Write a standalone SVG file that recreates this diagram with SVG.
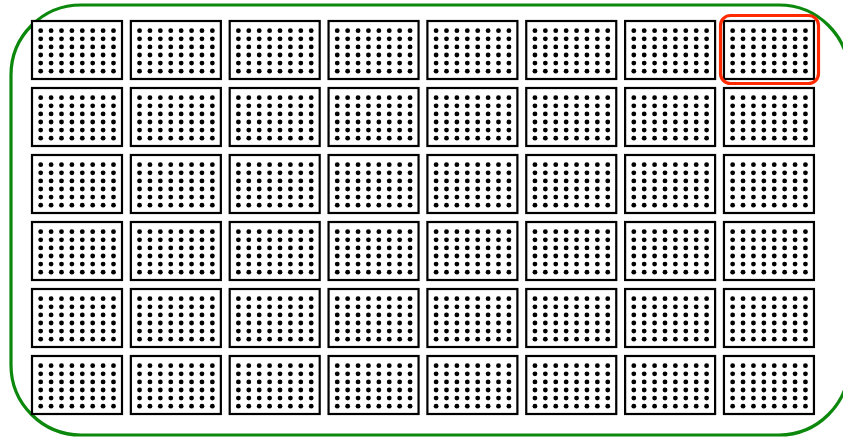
<svg xmlns="http://www.w3.org/2000/svg" xmlns:xlink="http://www.w3.org/1999/xlink" width="843" height="438" viewBox="0 0 843 438">
<style>
.frame{fill:none;stroke:#0c880c;stroke-width:3.2}
.hl{fill:none;stroke:#ff2a00;stroke-width:3.2}
.pl{fill:#fff;stroke:#000;stroke-width:2.2}
.dot{fill:#000}
</style>
<defs>
<g id="plate">
<rect class="pl" x="0" y="0" width="90" height="58"/>
<g class="dot">
<circle cx="8.7" cy="9.7" r="2.4"/><circle cx="19.1" cy="9.7" r="2.4"/><circle cx="29.5" cy="9.7" r="2.4"/><circle cx="39.9" cy="9.7" r="2.4"/><circle cx="50.3" cy="9.7" r="2.4"/><circle cx="60.7" cy="9.7" r="2.4"/><circle cx="71.1" cy="9.7" r="2.4"/><circle cx="81.5" cy="9.7" r="2.4"/>
<circle cx="8.7" cy="17.8" r="2.4"/><circle cx="19.1" cy="17.8" r="2.4"/><circle cx="29.5" cy="17.8" r="2.4"/><circle cx="39.9" cy="17.8" r="2.4"/><circle cx="50.3" cy="17.8" r="2.4"/><circle cx="60.7" cy="17.8" r="2.4"/><circle cx="71.1" cy="17.8" r="2.4"/><circle cx="81.5" cy="17.8" r="2.4"/>
<circle cx="8.7" cy="25.9" r="2.4"/><circle cx="19.1" cy="25.9" r="2.4"/><circle cx="29.5" cy="25.9" r="2.4"/><circle cx="39.9" cy="25.9" r="2.4"/><circle cx="50.3" cy="25.9" r="2.4"/><circle cx="60.7" cy="25.9" r="2.4"/><circle cx="71.1" cy="25.9" r="2.4"/><circle cx="81.5" cy="25.9" r="2.4"/>
<circle cx="8.7" cy="34" r="2.4"/><circle cx="19.1" cy="34" r="2.4"/><circle cx="29.5" cy="34" r="2.4"/><circle cx="39.9" cy="34" r="2.4"/><circle cx="50.3" cy="34" r="2.4"/><circle cx="60.7" cy="34" r="2.4"/><circle cx="71.1" cy="34" r="2.4"/><circle cx="81.5" cy="34" r="2.4"/>
<circle cx="8.7" cy="42.1" r="2.4"/><circle cx="19.1" cy="42.1" r="2.4"/><circle cx="29.5" cy="42.1" r="2.4"/><circle cx="39.9" cy="42.1" r="2.4"/><circle cx="50.3" cy="42.1" r="2.4"/><circle cx="60.7" cy="42.1" r="2.4"/><circle cx="71.1" cy="42.1" r="2.4"/><circle cx="81.5" cy="42.1" r="2.4"/>
<circle cx="8.7" cy="50.2" r="2.4"/><circle cx="19.1" cy="50.2" r="2.4"/><circle cx="29.5" cy="50.2" r="2.4"/><circle cx="39.9" cy="50.2" r="2.4"/><circle cx="50.3" cy="50.2" r="2.4"/><circle cx="60.7" cy="50.2" r="2.4"/><circle cx="71.1" cy="50.2" r="2.4"/><circle cx="81.5" cy="50.2" r="2.4"/>
</g>
</g>
</defs>
<rect id="background" x="0" y="0" width="843" height="438" fill="#fff"/>
<g id="frame"><rect class="frame" x="11" y="5" width="838" height="430" rx="70" ry="70"/></g>
<g id="plates">
<g id="p-1-1" transform="translate(32,21)"><use href="#plate"/></g>
<g id="p-1-2" transform="translate(130.85,21)"><use href="#plate"/></g>
<g id="p-1-3" transform="translate(229.7,21)"><use href="#plate"/></g>
<g id="p-1-4" transform="translate(328.55,21)"><use href="#plate"/></g>
<g id="p-1-5" transform="translate(427.4,21)"><use href="#plate"/></g>
<g id="p-1-6" transform="translate(526.25,21)"><use href="#plate"/></g>
<g id="p-1-7" transform="translate(625.1,21)"><use href="#plate"/></g>
<g id="p-1-8" transform="translate(723.95,21)"><use href="#plate"/></g>
<g id="p-2-1" transform="translate(32,88)"><use href="#plate"/></g>
<g id="p-2-2" transform="translate(130.85,88)"><use href="#plate"/></g>
<g id="p-2-3" transform="translate(229.7,88)"><use href="#plate"/></g>
<g id="p-2-4" transform="translate(328.55,88)"><use href="#plate"/></g>
<g id="p-2-5" transform="translate(427.4,88)"><use href="#plate"/></g>
<g id="p-2-6" transform="translate(526.25,88)"><use href="#plate"/></g>
<g id="p-2-7" transform="translate(625.1,88)"><use href="#plate"/></g>
<g id="p-2-8" transform="translate(723.95,88)"><use href="#plate"/></g>
<g id="p-3-1" transform="translate(32,155)"><use href="#plate"/></g>
<g id="p-3-2" transform="translate(130.85,155)"><use href="#plate"/></g>
<g id="p-3-3" transform="translate(229.7,155)"><use href="#plate"/></g>
<g id="p-3-4" transform="translate(328.55,155)"><use href="#plate"/></g>
<g id="p-3-5" transform="translate(427.4,155)"><use href="#plate"/></g>
<g id="p-3-6" transform="translate(526.25,155)"><use href="#plate"/></g>
<g id="p-3-7" transform="translate(625.1,155)"><use href="#plate"/></g>
<g id="p-3-8" transform="translate(723.95,155)"><use href="#plate"/></g>
<g id="p-4-1" transform="translate(32,222)"><use href="#plate"/></g>
<g id="p-4-2" transform="translate(130.85,222)"><use href="#plate"/></g>
<g id="p-4-3" transform="translate(229.7,222)"><use href="#plate"/></g>
<g id="p-4-4" transform="translate(328.55,222)"><use href="#plate"/></g>
<g id="p-4-5" transform="translate(427.4,222)"><use href="#plate"/></g>
<g id="p-4-6" transform="translate(526.25,222)"><use href="#plate"/></g>
<g id="p-4-7" transform="translate(625.1,222)"><use href="#plate"/></g>
<g id="p-4-8" transform="translate(723.95,222)"><use href="#plate"/></g>
<g id="p-5-1" transform="translate(32,289)"><use href="#plate"/></g>
<g id="p-5-2" transform="translate(130.85,289)"><use href="#plate"/></g>
<g id="p-5-3" transform="translate(229.7,289)"><use href="#plate"/></g>
<g id="p-5-4" transform="translate(328.55,289)"><use href="#plate"/></g>
<g id="p-5-5" transform="translate(427.4,289)"><use href="#plate"/></g>
<g id="p-5-6" transform="translate(526.25,289)"><use href="#plate"/></g>
<g id="p-5-7" transform="translate(625.1,289)"><use href="#plate"/></g>
<g id="p-5-8" transform="translate(723.95,289)"><use href="#plate"/></g>
<g id="p-6-1" transform="translate(32,356)"><use href="#plate"/></g>
<g id="p-6-2" transform="translate(130.85,356)"><use href="#plate"/></g>
<g id="p-6-3" transform="translate(229.7,356)"><use href="#plate"/></g>
<g id="p-6-4" transform="translate(328.55,356)"><use href="#plate"/></g>
<g id="p-6-5" transform="translate(427.4,356)"><use href="#plate"/></g>
<g id="p-6-6" transform="translate(526.25,356)"><use href="#plate"/></g>
<g id="p-6-7" transform="translate(625.1,356)"><use href="#plate"/></g>
<g id="p-6-8" transform="translate(723.95,356)"><use href="#plate"/></g>
</g>
<g id="highlight"><rect class="hl" x="720.5" y="15.5" width="98" height="68" rx="10" ry="10"/></g>
</svg>
